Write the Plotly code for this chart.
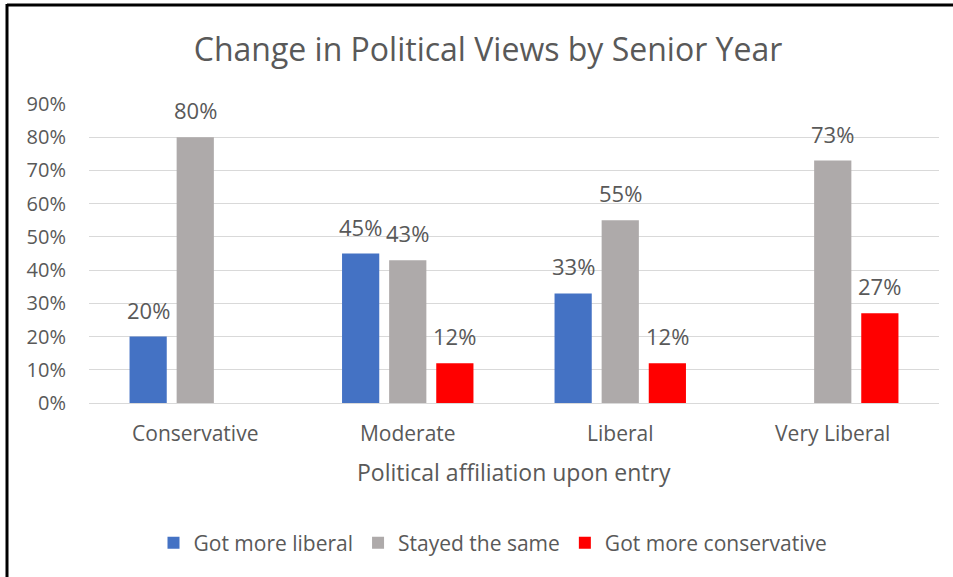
import plotly.graph_objects as go

# Survey results: share of students whose views shifted by senior year
categories = ["Conservative", "Moderate", "Liberal", "Very Liberal"]
series_names = ["Got more liberal", "Stayed the same", "Got more conservative"]
got_more_liberal = [0.20, 0.45, 0.33, None]
stayed_same = [0.80, 0.43, 0.55, 0.73]
got_more_conservative = [None, 0.12, 0.12, 0.27]
y_ticks = [0, 0.1, 0.2, 0.3, 0.4, 0.5, 0.6, 0.7, 0.8, 0.9]

series_values = [got_more_liberal, stayed_same, got_more_conservative]
colors = ["#4472C4", "#AEAAAA", "#FF0000"]

W, H = 953, 577
M_L, M_R, M_T, M_B = 89, 14, 104, 174
plot_w = W - M_L - M_R
plot_h = H - M_T - M_B
BARGAP = 0.335
GROUPGAP = 0.21
FONT = "Open Sans"
TXT = "#595959"

fig = go.Figure()
for name, vals, col in zip(series_names, series_values, colors):
    fig.add_trace(go.Bar(
        x=categories, y=vals, name=name,
        marker=dict(color=col, line=dict(width=0)),
    ))

# value labels above each bar, offset horizontally to the bar's slot
cat_w = plot_w / len(categories)
slot = cat_w * (1 - BARGAP) / len(series_values)
annotations = []
for i, vals in enumerate(series_values):
    for cat, v in zip(categories, vals):
        if v is None:
            continue
        annotations.append(dict(
            x=cat, y=v, xref="x", yref="y",
            xshift=(i - 1) * slot, yshift=10,
            text=f"{round(v * 100)}%", showarrow=False,
            xanchor="center", yanchor="bottom",
            font=dict(family=FONT, size=22, color=TXT),
        ))

def px_x(px):
    return (px - M_L) / plot_w

def px_y(py):
    return (M_T + plot_h - py) / plot_h

# x-axis title
annotations.append(dict(
    x=0.5, y=px_y(472), xref="paper", yref="paper",
    text="Political affiliation upon entry", showarrow=False,
    xanchor="center", yanchor="middle",
    font=dict(family=FONT, size=23, color=TXT),
))

# frame lines along the top and left edges
shapes = [
    dict(type="line", xref="paper", yref="paper",
         x0=px_x(7), x1=px_x(W + 5), y0=px_y(5), y1=px_y(5),
         line=dict(color="black", width=3)),
    dict(type="line", xref="paper", yref="paper",
         x0=px_x(7), x1=px_x(7), y0=px_y(4), y1=px_y(H + 5),
         line=dict(color="black", width=3)),
]

fig.update_layout(
    width=W, height=H,
    margin=dict(l=M_L, r=M_R, t=M_T, b=M_B),
    paper_bgcolor="white", plot_bgcolor="white",
    barmode="group", bargap=BARGAP, bargroupgap=GROUPGAP,
    title=dict(
        text="Change in Political Views by Senior Year",
        x=488 / W, xref="container", xanchor="center",
        y=1 - 50 / H, yref="container", yanchor="middle",
        font=dict(family=FONT, size=32, color=TXT),
    ),
    xaxis=dict(
        showgrid=False, showline=False, ticks="",
        tickfont=dict(family=FONT, size=21, color=TXT),
        ticklabelstandoff=16,
    ),
    yaxis=dict(
        range=[0, 0.9001], tickvals=y_ticks, tickformat=".0%",
        showgrid=True, gridcolor="#D9D9D9", gridwidth=1,
        zeroline=True, zerolinecolor="#D9D9D9", zerolinewidth=1,
        showline=False, ticks="",
        tickfont=dict(family=FONT, size=20, color=TXT),
        ticklabelstandoff=22,
    ),
    legend=dict(
        orientation="h", x=px_x(493), xanchor="center",
        y=px_y(543), yanchor="middle",
        font=dict(family=FONT, size=21, color=TXT),
        itemwidth=30, traceorder="normal",
    ),
    annotations=annotations,
    shapes=shapes,
    showlegend=True,
)

fig.write_html("out.html")
